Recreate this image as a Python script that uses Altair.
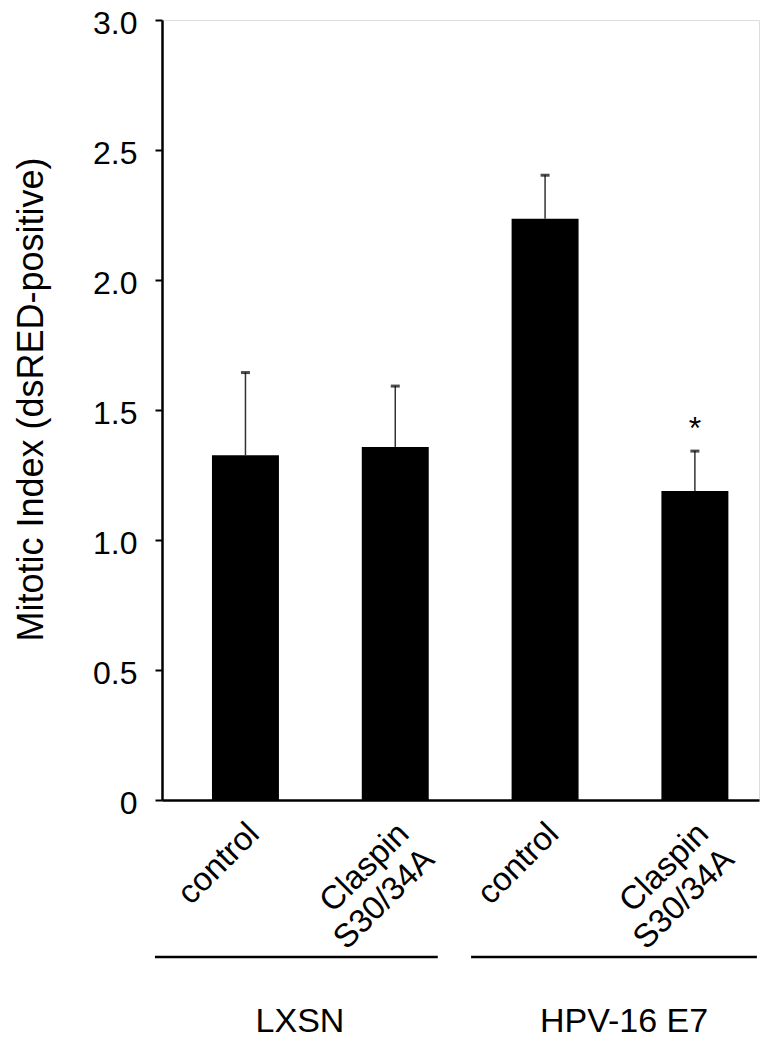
import altair as alt
import pandas as pd

# ---- data ----
groups = ["LXSN", "LXSN", "HPV-16 E7", "HPV-16 E7"]
conditions = ["control", "Claspin\nS30/34A", "control", "Claspin\nS30/34A"]
means = [1.326, 1.358, 2.236, 1.188]
errors = [0.318, 0.234, 0.167, 0.154]
significance = ["", "", "", "*"]
y_ticks = [0, 0.5, 1.0, 1.5, 2.0, 2.5, 3.0]
group_names = ["LXSN", "HPV-16 E7"]

keys = [f"{g}|{c}" for g, c in zip(groups, conditions)]
df = pd.DataFrame({
    "key": keys,
    "group": groups,
    "condition": conditions,
    "mean": means,
    "err": errors,
    "sig": significance,
})

grp_rows = []
for g in group_names:
    ks = [k for k, gg in zip(keys, groups) if gg == g]
    grp_rows.append({"group": g, "first": ks[0], "last": ks[-1]})
gdf = pd.DataFrame(grp_rows)

FONT = "Liberation Sans"

xscale = alt.Scale(domain=keys, paddingInner=0.553, paddingOuter=0.269, align=0.62)

base = alt.Chart(df).transform_calculate(upper="datum.mean + datum.err")

bars = base.mark_bar(color="black").encode(
    x=alt.X(
        "key:N",
        scale=xscale,
        sort=keys,
        axis=alt.Axis(
            title=None,
            labelAngle=-45,
            labelFontSize=33,
            labelPadding=17,
            labelOffset=-3,
            labelLineHeight=36,
            labelExpr="split(split(datum.value, '|')[1], '\\n')",
            ticks=False,
            tickSize=0,
            domainColor="black",
            domainWidth=2.5,
            labelColor="black",
            labelLimit=400,
        ),
    ),
    y=alt.Y(
        "mean:Q",
        scale=alt.Scale(domain=[0, 3], nice=False),
        axis=alt.Axis(
            title="Mitotic Index (dsRED-positive)",
            values=y_ticks,
            labelExpr="datum.value == 0 ? '0' : format(datum.value, '.1f')",
            labelFontSize=32,
            labelPadding=18,
            labelOffset=3,
            labelColor="black",
            tickSize=7,
            tickWidth=2,
            tickColor="black",
            domainColor="black",
            domainWidth=2.5,
            grid=False,
            titleFontSize=36,
            titleFontWeight="normal",
            titleColor="black",
            titlePadding=42,
            titleY=379,
        ),
    ),
)

err_rule = base.mark_rule(color="#333333", strokeWidth=1.5).encode(
    x=alt.X("key:N", scale=xscale, sort=keys),
    y="mean:Q",
    y2="upper:Q",
)

caps = base.mark_tick(color="black", thickness=3, size=9).encode(
    x=alt.X("key:N", scale=xscale, sort=keys),
    y="upper:Q",
)

stars = base.mark_text(fontSize=32, baseline="alphabetic", dy=-12, color="black").encode(
    x=alt.X("key:N", scale=xscale, sort=keys),
    y="upper:Q",
    text="sig:N",
)

group_style = {
    "LXSN": {"x0": -90.5, "x1": 42.5, "dx": 54.5},
    "HPV-16 E7": {"x0": -74, "x1": 62, "dx": 79},
}

layers = [bars, err_rule, caps, stars]
for g in group_names:
    st = group_style[g]
    gchart = alt.Chart(gdf).transform_filter(alt.datum.group == g)
    layers.append(
        gchart.mark_rule(color="black", strokeWidth=2.5, xOffset=st["x0"], x2Offset=st["x1"]).encode(
            x=alt.X("first:N", scale=xscale),
            x2="last:N",
            y=alt.value(937),
        )
    )
    layers.append(
        gchart.mark_text(fontSize=34, baseline="alphabetic", align="center", dx=st["dx"], color="black").encode(
            x=alt.X("first:N", scale=xscale),
            y=alt.value(1012),
            text="group:N",
        )
    )

chart = (
    alt.layer(*layers)
    .properties(width=597, height=780, padding={"left": 5, "top": -1, "right": 5, "bottom": 5})
    .configure_view(stroke=None)
    .configure_axis(labelFont=FONT, titleFont=FONT)
    .configure_text(font=FONT)
    .configure(font=FONT)
)

chart.save("out.html", embed_options={"renderer": "svg", "actions": False})
